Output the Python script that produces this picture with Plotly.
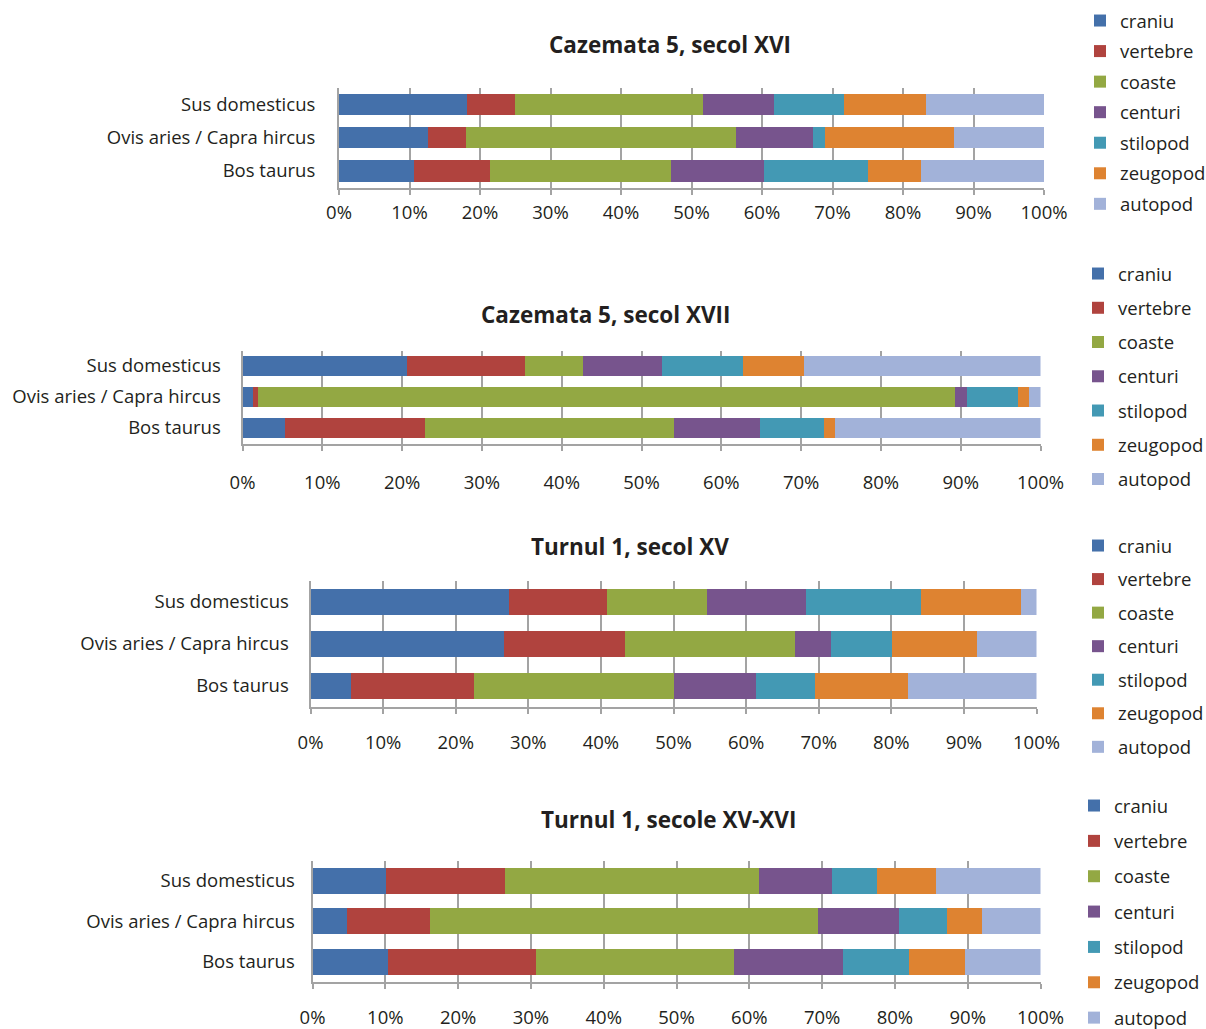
import plotly.graph_objects as go

# Skeletal element shares (%) by species, four archaeological contexts
species = ["Sus domesticus", "Ovis aries / Capra hircus", "Bos taurus"]
elements = ["craniu", "vertebre", "coaste", "centuri", "stilopod", "zeugopod", "autopod"]
colors = ["#4470AA", "#B0433E", "#93A843", "#77548D", "#4399B4", "#DE8331", "#A2B2D9"]

titles = [
    "Cazemata 5, secol XVI",
    "Cazemata 5, secol XVII",
    "Turnul 1, secol XV",
    "Turnul 1, secole XV-XVI",
]

tick_values = list(range(0, 101, 10))
tick_labels = [f"{v}%" for v in tick_values]

# rows: Sus domesticus, Ovis/Capra, Bos taurus ; columns follow `elements`
caz5_xvi = [
    [18.2, 6.7, 26.8, 10.0, 9.9, 11.7, 16.7],
    [12.6, 5.4, 38.3, 10.9, 1.8, 18.2, 12.8],
    [10.6, 10.8, 25.7, 13.2, 14.8, 7.5, 17.4],
]
caz5_xvii = [
    [20.6, 14.8, 7.3, 9.9, 10.1, 7.7, 29.6],
    [1.3, 0.7, 87.3, 1.5, 6.4, 1.4, 1.4],
    [5.3, 17.6, 31.2, 10.8, 8.0, 1.4, 25.7],
]
turn1_xv = [
    [27.3, 13.6, 13.7, 13.6, 15.9, 13.7, 2.2],
    [26.7, 16.6, 23.5, 4.9, 8.4, 11.7, 8.2],
    [5.6, 16.9, 27.6, 11.3, 8.1, 12.8, 17.7],
]
turn1_xv_xvi = [
    [10.1, 16.4, 34.8, 10.1, 6.1, 8.2, 14.3],
    [4.8, 11.3, 53.3, 11.2, 6.5, 4.9, 8.0],
    [10.4, 20.3, 27.2, 15.0, 9.0, 7.7, 10.4],
]
panels = [caz5_xvi, caz5_xvii, turn1_xv, turn1_xv_xvi]

W, H = 1206, 1029
FONT = "Open Sans"
TXT = "#231F20"
GRID = "#A3A3A3"
FS = 18.5

# pixel geometry of each panel: (left, right, top, bottom)
boxes = [
    (339, 1044, 87.5, 187.5),
    (242.5, 1040.5, 350.5, 443.5),
    (310.5, 1036.5, 581, 707),
    (312.5, 1040.5, 860.5, 982),
]
title_pos = [(670, 44), (605, 314), (630, 546), (668, 819)]
legend_pos = [(1080, 2), (1078, 255), (1078, 527), (1074, 787)]
legend_gap = [3.5, 7.2, 6.5, 8.3]
x_standoff = [2, 16, 13, 13]
y_standoff = [18, 16, 16, 12]

fig = go.Figure()

for p, data in enumerate(panels):
    n = p + 1
    suffix = "" if n == 1 else str(n)
    for j, el in enumerate(elements):
        fig.add_trace(go.Bar(
            y=species,
            x=[row[j] for row in data],
            orientation="h",
            name=el,
            marker=dict(color=colors[j], line=dict(width=0)),
            xaxis="x" + suffix,
            yaxis="y" + suffix,
            legend="legend" + suffix,
            legendgroup=f"{n}-{el}",
            hoverinfo="name+x",
        ))

    left, right, top, bottom = boxes[p]
    fig.layout["xaxis" + suffix] = dict(
        domain=[left / W, right / W],
        anchor="y" + suffix,
        range=[0, 100],
        tickmode="array",
        tickvals=tick_values,
        ticktext=tick_labels,
        showgrid=True,
        gridcolor=GRID,
        gridwidth=1.5,
        showline=True,
        linecolor=GRID,
        linewidth=2,
        ticks="outside",
        ticklen=5,
        tickcolor=GRID,
        tickwidth=1.5,
        ticklabelstandoff=x_standoff[p],
        tickfont=dict(family=FONT, size=FS, color=TXT),
        zeroline=False,
        fixedrange=True,
    )
    fig.layout["yaxis" + suffix] = dict(
        domain=[1 - bottom / H, 1 - top / H],
        anchor="x" + suffix,
        type="category",
        categoryorder="array",
        categoryarray=species,
        autorange="reversed",
        showgrid=False,
        showline=True,
        linecolor=GRID,
        linewidth=2,
        ticks="",
        ticklabelstandoff=y_standoff[p],
        tickfont=dict(family=FONT, size=FS, color=TXT),
        fixedrange=True,
    )

    lx, ly = legend_pos[p]
    fig.layout["legend" + suffix] = dict(
        x=lx / W,
        y=1 - ly / H,
        xanchor="left",
        yanchor="top",
        orientation="v",
        traceorder="grouped",
        tracegroupgap=legend_gap[p],
        font=dict(family=FONT, size=FS, color=TXT),
        bgcolor="rgba(0,0,0,0)",
        itemclick=False,
        itemdoubleclick=False,
    )

    tx, ty = title_pos[p]
    fig.add_annotation(
        text=f"<b>{titles[p]}</b>",
        x=tx / W,
        y=1 - ty / H,
        xref="paper",
        yref="paper",
        xanchor="center",
        yanchor="middle",
        showarrow=False,
        font=dict(family=FONT, size=22.5, color=TXT),
    )

fig.update_layout(
    width=W,
    height=H,
    margin=dict(l=0, r=0, t=0, b=0, autoexpand=False),
    barmode="stack",
    bargap=0.36,
    paper_bgcolor="white",
    plot_bgcolor="white",
    font=dict(family=FONT, color=TXT),
)

fig.write_html("out.html")
